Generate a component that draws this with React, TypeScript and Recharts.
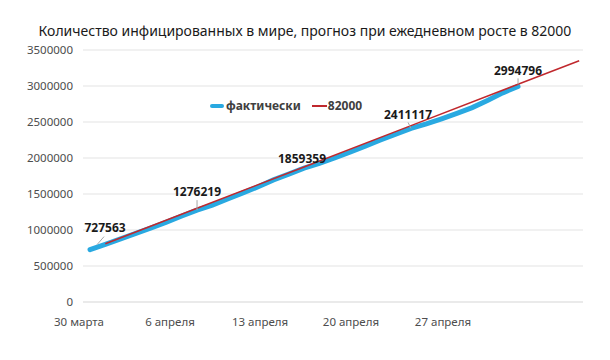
import { LineChart, Line, XAxis, YAxis, CartesianGrid, Legend } from "recharts";

// days counted from 30 марта
const actualDays = [0, 1, 2, 3, 4, 5, 6, 7, 8, 9, 10, 11, 12, 13, 14, 15, 16, 17, 18, 19, 20, 21, 22, 23, 24, 25, 26, 27, 28];
const actualValues = [
  727563, 800000, 876000, 953000, 1030000, 1110000, 1195000, 1276219, 1345000, 1430000,
  1515000, 1600000, 1696000, 1777000, 1859359, 1925000, 2000000, 2080000, 2165000, 2250000,
  2330000, 2411117, 2475000, 2545000, 2620000, 2700000, 2800000, 2905000, 2994796,
];
const forecastDays = [1, 7, 14, 21, 28, 32];
const forecastValues = [809563, 1301563, 1875563, 2449563, 3023563, 3351563];

const tickDays = [-0.72, 5.23, 11.12, 17.07, 23.09];
const tickLabels = ["30 марта", "6 апреля", "13 апреля", "20 апреля", "27 апреля"];
const yTicks = [0, 500000, 1000000, 1500000, 2000000, 2500000, 3000000, 3500000];
const labeledDays = [0, 7, 14, 21, 28];

const actualData = actualDays.map((d, i) => ({ day: d, value: actualValues[i] }));
const forecastData = forecastDays.map((d, i) => ({ day: d, value: forecastValues[i] }));

const FONT = "'Noto Sans', sans-serif";

// label offsets relative to the point: text dx/dy and optional leader line
const labelOffsets: Record<number, { dx: number; dy: number; leader: number[] | null }> = {
  0: { dx: 15, dy: -18, leader: [7, -5, 14, -13] },
  7: { dx: 0, dy: -14, leader: [0, -10, 0, 0] },
  14: { dx: -2, dy: -5, leader: null },
  21: { dx: -3, dy: -9, leader: [-3, -6, 0, 0] },
  28: { dx: 0, dy: -11, leader: [0, -8, 0, -2] },
};

function PointLabel(props: any) {
  const { x, y, value, index } = props;
  const day = actualDays[index];
  if (!labeledDays.includes(day)) return null;
  const o = labelOffsets[day];
  return (
    <g>
      {o.leader && (
        <line
          x1={x + o.leader[0]}
          y1={y + o.leader[1]}
          x2={x + o.leader[2]}
          y2={y + o.leader[3]}
          stroke="#a6a6a6"
          strokeWidth={1}
        />
      )}
      <text
        x={x + o.dx}
        y={y + o.dy}
        textAnchor="middle"
        fontFamily={FONT}
        fontSize={12}
        fontWeight={700}
        fill="#1a1a1a"
      >
        {value}
      </text>
    </g>
  );
}

function LegendContent() {
  return (
    <div style={{ display: "flex", alignItems: "center", fontFamily: FONT, fontSize: 12, fontWeight: 700, color: "#404040" }}>
      <span style={{ display: "inline-block", width: 14, height: 4, borderRadius: 2, background: "#29a9e1", marginRight: 2 }} />
      <span>фактически</span>
      <span style={{ display: "inline-block", width: 15, height: 2, background: "#c0282d", marginLeft: 11, marginRight: 1 }} />
      <span>82000</span>
    </div>
  );
}

export default function App() {
  return (
    <div style={{ position: "absolute", left: 0, top: 0, width: 610, height: 360, background: "#fff" }}>
      <div
        style={{
          position: "absolute",
          left: 0,
          top: 21,
          width: 610,
          textAlign: "center",
          fontFamily: FONT,
          fontSize: 14,
          color: "#1a1a1a",
        }}
      >
        Количество инфицированных в мире, прогноз при ежедневном росте в 82000
      </div>
      <LineChart width={610} height={360} margin={{ top: 50, right: 27, bottom: 28, left: 8 }}>
        <CartesianGrid vertical={false} stroke="#e3e3e3" />
        <XAxis
          type="number"
          dataKey="day"
          domain={[-0.46, 32.25]}
          ticks={tickDays}
          allowDataOverflow
          tickFormatter={(v: number) => tickLabels[tickDays.indexOf(v)] ?? ""}
          axisLine={{ stroke: "#e3e3e3" }}
          tickLine={false}
          tickMargin={10}
          tick={{ fill: "#4d4d4d", fontSize: 11.5, fontFamily: FONT }}
        />
        <YAxis
          type="number"
          domain={[0, 3500000]}
          ticks={yTicks}
          width={75}
          axisLine={false}
          tickLine={false}
          tickMargin={4}
          tick={{ fill: "#4d4d4d", fontSize: 11.5, fontFamily: FONT }}
        />
        <Legend
          verticalAlign="middle"
          content={<LegendContent />}
          wrapperStyle={{ position: "absolute", top: 97, left: 210, width: "auto" }}
        />
        <Line
          data={actualData}
          dataKey="value"
          name="фактически"
          stroke="#29a9e1"
          strokeWidth={5}
          strokeLinecap="round"
          dot={false}
          isAnimationActive={false}
          label={<PointLabel />}
        />
        <Line
          data={forecastData}
          dataKey="value"
          name="82000"
          stroke="#c0282d"
          strokeWidth={1.5}
          dot={false}
          isAnimationActive={false}
        />
      </LineChart>
    </div>
  );
}
